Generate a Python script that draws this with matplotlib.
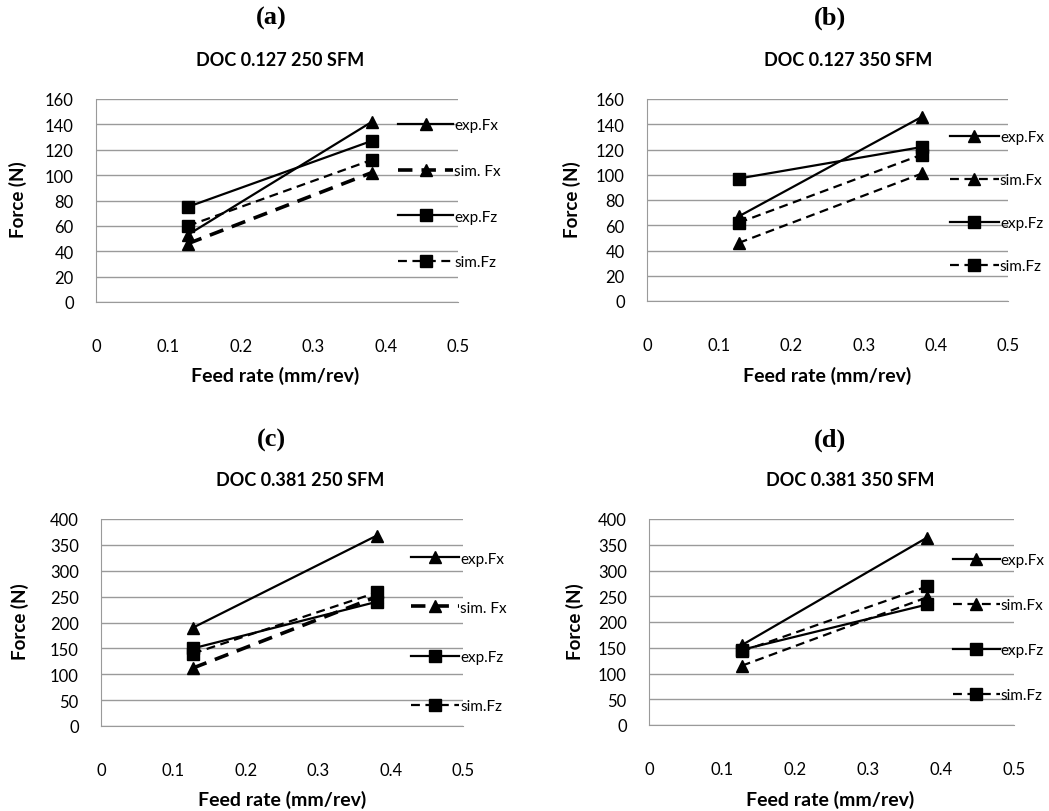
import matplotlib
matplotlib.use("Agg")
import matplotlib.pyplot as plt

W, H = 1049, 812

feed = [0.127, 0.381]

# (a) DOC 0.127 250 SFM
a_exp_fx = [53, 142]
a_sim_fx = [46, 102]
a_exp_fz = [75, 127]
a_sim_fz = [60, 112]
# (b) DOC 0.127 350 SFM
b_exp_fx = [67, 146]
b_sim_fx = [46, 101]
b_exp_fz = [97, 122]
b_sim_fz = [62, 116]
# (c) DOC 0.381 250 SFM
c_exp_fx = [190, 368]
c_sim_fx = [112, 250]
c_exp_fz = [150, 240]
c_sim_fz = [140, 258]
# (d) DOC 0.381 350 SFM
d_exp_fx = [155, 364]
d_sim_fx = [115, 248]
d_exp_fz = [146, 234]
d_sim_fz = [143, 269]

x_ticks = [0, 0.1, 0.2, 0.3, 0.4, 0.5]
x_tick_labels = ["0", "0.1", "0.2", "0.3", "0.4", "0.5"]

SANS = "Lato"
SERIF = "Liberation Serif"
GRID = "#9a9a9a"

panels = [
    dict(letter="(a)", title="DOC 0.127 250 SFM", box=(96, 458, 100, 303),
         ymax=160, ystep=20, data=(a_exp_fx, a_sim_fx, a_exp_fz, a_sim_fz),
         labels=["exp.Fx", "sim. Fx", "exp.Fz", "sim.Fz"], thick_simfx=True,
         leg=(0.835, 0.905), lspace=2.07, hlen=3.6,
         letter_xy=(271, 18), title_xy=(280, 60), xl_xy=(275, 376), yl_xy=(18, 200)),
    dict(letter="(b)", title="DOC 0.127 350 SFM", box=(647, 1008, 100, 302),
         ymax=160, ystep=20, data=(b_exp_fx, b_sim_fx, b_exp_fz, b_sim_fz),
         labels=["exp.Fx", "sim.Fx", "exp.Fz", "sim.Fz"], thick_simfx=False,
         leg=(0.838, 0.846), lspace=1.9, hlen=3.25,
         letter_xy=(830, 18), title_xy=(848, 60), xl_xy=(827, 376), yl_xy=(572, 200)),
    dict(letter="(c)", title="DOC 0.381 250 SFM", box=(101, 463, 520, 727),
         ymax=400, ystep=50, data=(c_exp_fx, c_sim_fx, c_exp_fz, c_sim_fz),
         labels=["exp.Fx", "sim. Fx", "exp.Fz", "sim.Fz"], thick_simfx=True,
         leg=(0.857, 0.842), lspace=2.3, hlen=3.15,
         letter_xy=(271, 440), title_xy=(300, 481), xl_xy=(282, 800), yl_xy=(20, 622)),
    dict(letter="(d)", title="DOC 0.381 350 SFM", box=(649, 1014, 520, 726),
         ymax=400, ystep=50, data=(d_exp_fx, d_sim_fx, d_exp_fz, d_sim_fz),
         labels=["exp.Fx", "sim.Fx", "exp.Fz", "sim.Fz"], thick_simfx=False,
         leg=(0.833, 0.833), lspace=2.02, hlen=3.05,
         letter_xy=(830, 440), title_xy=(850, 481), xl_xy=(830, 800), yl_xy=(575, 622)),
]

fig = plt.figure(figsize=(W / 100, H / 100), dpi=100)
fig.patch.set_facecolor("white")

MS = 8.5
for p in panels:
    l, r, t, b = p["box"]
    ax = fig.add_axes([l / W, 1 - b / H, (r - l) / W, (b - t) / H])
    exp_fx, sim_fx, exp_fz, sim_fz = p["data"]
    dash = (0, (4, 2.5))
    h1, = ax.plot(feed, exp_fx, color="black", lw=1.6, marker="^", ms=MS)
    h2, = ax.plot(feed, sim_fx, color="black", lw=2.6 if p["thick_simfx"] else 1.6,
                  ls=dash, marker="^", ms=MS)
    h3, = ax.plot(feed, exp_fz, color="black", lw=1.6, marker="s", ms=MS - 0.5)
    h4, = ax.plot(feed, sim_fz, color="black", lw=1.6, ls=dash, marker="s", ms=MS - 0.5)

    ax.set_xlim(0, 0.5)
    ax.set_ylim(0, p["ymax"])
    yt = list(range(0, p["ymax"] + 1, p["ystep"]))
    ax.set_yticks(yt)
    ax.set_yticklabels([str(v) for v in yt], fontsize=12, family=SANS)
    ax.set_xticks(x_ticks)
    ax.set_xticklabels(x_tick_labels, fontsize=12, family=SANS)
    ax.tick_params(axis="both", length=0)
    ax.tick_params(axis="y", pad=16)
    ax.tick_params(axis="x", pad=26)
    ax.yaxis.grid(True, color=GRID, lw=1.0)
    ax.set_axisbelow(True)
    for s in ["top", "right"]:
        ax.spines[s].set_visible(False)
    ax.spines["bottom"].set_color(GRID)
    ax.spines["left"].set_color(GRID)

    ax.legend([h1, h2, h3, h4], p["labels"], loc="upper left",
              bbox_to_anchor=p["leg"], frameon=False, borderpad=0,
              borderaxespad=0, handlelength=p["hlen"], handletextpad=0.05,
              labelspacing=p["lspace"], prop=dict(family=SANS, size=11))

    fig.text(p["letter_xy"][0] / W, 1 - p["letter_xy"][1] / H, p["letter"],
             ha="center", va="center", fontsize=19, fontweight="bold", family=SERIF)
    fig.text(p["title_xy"][0] / W, 1 - p["title_xy"][1] / H, p["title"],
             ha="center", va="center", fontsize=13, fontweight="bold", family=SANS)
    fig.text(p["xl_xy"][0] / W, 1 - p["xl_xy"][1] / H, "Feed rate (mm/rev)",
             ha="center", va="center", fontsize=14, fontweight="bold", family=SANS)
    fig.text(p["yl_xy"][0] / W, 1 - p["yl_xy"][1] / H, "Force (N)",
             ha="center", va="center", rotation=90, fontsize=13.5, fontweight="bold", family=SANS)

fig.savefig("out.png", dpi=100, facecolor="white")
